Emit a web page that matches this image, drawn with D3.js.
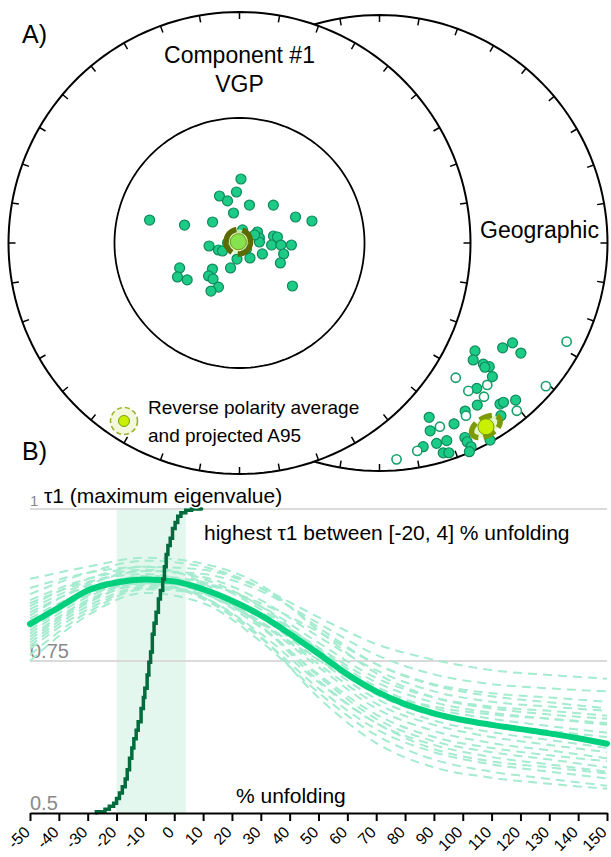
<!DOCTYPE html>
<html>
<head>
<meta charset="utf-8">
<script src="https://cdn.jsdelivr.net/npm/d3@7"></script>
<style>
    body { margin: 0; background: #fff; }
    svg { display: block; font-family: "Liberation Sans", Arial, Helvetica, sans-serif; }
</style>
</head>
<body>
<svg id="chart" width="611" height="857"></svg>
<script>
// ---- A) stereonets: VGPs as [lon, lat], directions as [dec, inc] (inc < 0 = upper hemisphere)
const vgps = [
    [1.3, 67.4], [336.9, 72.0], [356.6, 72.0], [344.1, 74.6], [14.7, 76.2], [41.8, 72.1],
    [348.7, 79.25], [284.3, 57.0], [288.1, 69.6], [307.9, 78.0], [65.1, 68.2], [73.1, 63.2],
    [13.0, 85.3], [58.6, 82.6], [76, 82.8], [78.4, 77.8], [81, 76.5], [264.4, 79.25],
    [251.6, 82.2], [244.8, 83.4], [270, 85.8], [87.1, 83.0], [93.6, 78.7], [92.8, 75.4],
    [92.2, 71.7], [104.0, 74.0], [116.0, 74.0], [115.6, 81.1], [145, 83.6], [188.9, 84.3],
    [199.8, 80.7], [247.4, 67.1], [241.3, 65.0], [234.8, 67.4], [226.1, 76.8], [223.2, 74.1],
    [216.4, 74.3], [205.5, 72.8], [210.7, 70.3], [129.1, 65.9], [107, 87.6], [62, 84.0], [130.6, 86.8]
];
const vgpMean = [317, 89.4];
const vgpA95 = 4.3;

const directions = [
    [138.5, 36.9], [141.3, 34.6], [139.4, 30.7], [138.4, 28.3], [139.7, 29.3], [139.8, 24.3],
    [130.4, 29.8], [126.9, 27.9], [127.9, 22.5], [146.2, 24.3], [148.9, 18.1], [143.2, 12.8],
    [142.1, 12.5], [139.1, 9.7], [153.0, 18.4], [144.9, 8.2], [164.1, 21.6], [164.9, 15.8],
    [157.6, 15.3], [164.1, 9.5], [161.2, 9.3], [167.9, 9.5], [163.1, 4.3], [161.7, 3.5],
    [156.3, 7.6], [156.2, 5.3], [155.8, 2.3], [156.7, 0.4], [150.7, 1.0],
    [117.8, -8.0], [150.5, -32.6], [149.0, -25.3], [142.8, -22.9], [145.8, -19.6], [130.7, -4.2],
    [140.7, -5.5], [153.4, -16.4], [161.8, -16.3], [169.7, -8.1], [175.5, -5.4]
];
const dirMean = [149.9, 7.6];
const dirA95 = 4.2;

// ---- B) fold test
const unfoldX = [-50, -40, -30, -20, -10, 0, 10, 20, 30, 40, 50, 60, 70, 80, 90, 100, 110, 120, 130, 140, 150];
const meanTau1 = [0.811, 0.838, 0.866, 0.879, 0.884, 0.881, 0.868, 0.849, 0.825, 0.795, 0.762,
    0.728, 0.700, 0.679, 0.664, 0.653, 0.645, 0.638, 0.631, 0.623, 0.614];

const bootX = [-50, -30, -10, 10, 30, 50, 70, 90, 110, 130, 150];
const bootTau1 = [
    [0.840, 0.885, 0.905, 0.900, 0.870, 0.822, 0.778, 0.752, 0.735, 0.727, 0.721],
    [0.825, 0.875, 0.898, 0.893, 0.865, 0.812, 0.760, 0.728, 0.712, 0.705, 0.700],
    [0.860, 0.895, 0.915, 0.905, 0.870, 0.805, 0.745, 0.710, 0.692, 0.682, 0.672],
    [0.790, 0.850, 0.880, 0.875, 0.845, 0.798, 0.745, 0.712, 0.697, 0.690, 0.683],
    [0.885, 0.905, 0.920, 0.910, 0.875, 0.800, 0.730, 0.690, 0.672, 0.662, 0.655],
    [0.800, 0.860, 0.885, 0.878, 0.840, 0.780, 0.722, 0.690, 0.675, 0.668, 0.660],
    [0.770, 0.835, 0.870, 0.865, 0.830, 0.772, 0.715, 0.682, 0.665, 0.655, 0.645],
    [0.815, 0.865, 0.890, 0.880, 0.835, 0.770, 0.708, 0.672, 0.655, 0.643, 0.632],
    [0.850, 0.885, 0.900, 0.885, 0.840, 0.768, 0.700, 0.662, 0.645, 0.635, 0.625],
    [0.780, 0.845, 0.878, 0.870, 0.825, 0.758, 0.695, 0.660, 0.642, 0.630, 0.618],
    [0.830, 0.872, 0.888, 0.872, 0.822, 0.752, 0.688, 0.652, 0.633, 0.620, 0.607],
    [0.795, 0.855, 0.880, 0.865, 0.815, 0.745, 0.680, 0.645, 0.625, 0.612, 0.600],
    [0.760, 0.830, 0.868, 0.860, 0.812, 0.740, 0.672, 0.635, 0.615, 0.603, 0.590],
    [0.820, 0.865, 0.882, 0.862, 0.805, 0.728, 0.662, 0.625, 0.607, 0.595, 0.585],
    [0.845, 0.880, 0.893, 0.870, 0.808, 0.725, 0.655, 0.618, 0.600, 0.588, 0.575],
    [0.785, 0.848, 0.875, 0.855, 0.795, 0.715, 0.648, 0.612, 0.592, 0.580, 0.568],
    [0.805, 0.858, 0.878, 0.852, 0.788, 0.705, 0.638, 0.600, 0.580, 0.568, 0.557],
    [0.750, 0.825, 0.862, 0.845, 0.782, 0.698, 0.628, 0.588, 0.568, 0.556, 0.545],
    [0.870, 0.895, 0.905, 0.878, 0.808, 0.718, 0.648, 0.605, 0.585, 0.575, 0.565],
    [0.810, 0.860, 0.878, 0.855, 0.790, 0.690, 0.615, 0.575, 0.558, 0.548, 0.540],
    [0.775, 0.840, 0.872, 0.860, 0.812, 0.752, 0.700, 0.675, 0.662, 0.655, 0.648],
    [0.835, 0.878, 0.898, 0.888, 0.850, 0.790, 0.735, 0.700, 0.683, 0.675, 0.668]
];

// cumulative distribution of the unfolding that maximises tau1 (scaled 0.5..1)
const cdfX = [-27, -24, -22.5, -21, -20, -19, -18, -17, -16.3, -15.5, -14.7, -14, -13.2, -12.5,
    -11.5, -10.7, -10.2, -9.4, -8.8, -8.2, -7.6, -7.0, -6.3, -5.5, -4.8, -4.0, -3.4, -2.8,
    -2.2, -1.4, -0.6, 0.3, 1.2, 2.3, 4, 6, 9.5];
const cdfY = [0.500, 0.502, 0.506, 0.511, 0.516, 0.524, 0.533, 0.543, 0.556, 0.571, 0.590, 0.607,
    0.622, 0.636, 0.650, 0.672, 0.690, 0.705, 0.727, 0.748, 0.765, 0.794, 0.812, 0.830, 0.852,
    0.866, 0.885, 0.905, 0.925, 0.940, 0.952, 0.968, 0.978, 0.988, 0.994, 0.998, 1.000];

const bestRange = [-20, 4];
const xTicks = [-50, -40, -30, -20, -10, 0, 10, 20, 30, 40, 50, 60, 70, 80, 90, 100, 110, 120, 130, 140, 150];
const yTicks = [0.5, 0.75, 1];

const COLORS = {
    point: '#1ccb86',
    pointStroke: '#0f8a5a',
    openStroke: '#17a06c',
    mean: '#00cf7d',
    boot: '#a4ebcf',
    cdf: '#006b3c',
    band: '#e4f7ef',
    grid: '#dadada',
    tickText: '#8a8a8a'
};

const svg = d3.select('#chart');

// ---------- A) ----------
const NET_L = { cx: 239.5, cy: 243, r: 231 };
const NET_R = { cx: 379.5, cy: 243, r: 228 };

const toGeo = (dec, inc) => [180 - dec, Math.abs(inc)];

function makeProjection(net) {
    return d3.geoAzimuthalEqualArea()
        .rotate([0, -90])
        .scale(net.r / Math.SQRT2)
        .translate([net.cx, net.cy])
        .clipAngle(90);
}

function drawNet(g, proj, net, withInner) {
    const path = d3.geoPath(proj);
    g.append('path')
        .datum({ type: 'Sphere' })
        .attr('d', path)
        .attr('fill', '#fff')
        .attr('stroke', '#000')
        .attr('stroke-width', 2);
    if (withInner) {
        g.append('path')
            .datum(d3.geoCircle().center([0, 90]).radius(45)())
            .attr('d', path)
            .attr('fill', 'none')
            .attr('stroke', '#000')
            .attr('stroke-width', 1.8);
    }
    g.selectAll('line.tick')
        .data(d3.range(0, 360, 10))
        .join('line')
        .attr('class', 'tick')
        .each(function (az) {
            const p = proj(toGeo(az, 0));
            const dx = p[0] - net.cx, dy = p[1] - net.cy;
            const len = Math.hypot(dx, dy);
            d3.select(this)
                .attr('x1', p[0]).attr('y1', p[1])
                .attr('x2', p[0] - dx / len * 7).attr('y2', p[1] - dy / len * 7);
        })
        .attr('stroke', '#000')
        .attr('stroke-width', 1.5);
}

function drawMean(g, proj, mean, a95, ringColor, dash, dotFill, dotR) {
    const path = d3.geoPath(proj);
    const p = proj(toGeo(mean[0], mean[1]));
    g.append('path')
        .datum(d3.geoCircle().center(toGeo(mean[0], mean[1])).radius(a95)())
        .attr('d', path)
        .attr('fill', 'rgba(220, 245, 190, 0.8)')
        .attr('stroke', ringColor)
        .attr('stroke-width', 5.5)
        .attr('stroke-dasharray', dash);
    g.append('circle')
        .attr('cx', p[0]).attr('cy', p[1]).attr('r', dotR)
        .attr('fill', dotFill)
        .attr('stroke', '#7a9a10')
        .attr('stroke-width', 1);
}

const projL = makeProjection(NET_L);
const projR = makeProjection(NET_R);

const gNetR = svg.append('g');
drawNet(gNetR, projR, NET_R, false);
const gNetL = svg.append('g');
drawNet(gNetL, projL, NET_L, true);

// VGPs
svg.append('g')
    .selectAll('circle')
    .data(vgps)
    .join('circle')
    .attr('cx', d => projL(toGeo(d[0], d[1]))[0])
    .attr('cy', d => projL(toGeo(d[0], d[1]))[1])
    .attr('r', 5)
    .attr('fill', COLORS.point)
    .attr('stroke', COLORS.pointStroke)
    .attr('stroke-width', 1.2);
drawMean(svg.append('g'), projL, vgpMean, vgpA95, '#5b6b00', '30,6', '#86e24e', 8);

// directions
svg.append('g')
    .selectAll('circle')
    .data(directions)
    .join('circle')
    .attr('cx', d => projR(toGeo(d[0], d[1]))[0])
    .attr('cy', d => projR(toGeo(d[0], d[1]))[1])
    .attr('r', d => d[1] >= 0 ? 5 : 4.6)
    .attr('fill', d => d[1] >= 0 ? COLORS.point : '#fff')
    .attr('stroke', d => d[1] >= 0 ? COLORS.pointStroke : COLORS.openStroke)
    .attr('stroke-width', d => d[1] >= 0 ? 1.2 : 1.6);
drawMean(svg.append('g'), projR, dirMean, dirA95, '#7c9a06', '13,5', '#c9f000', 8);

// labels
const labels = svg.append('g').attr('fill', '#000');
labels.append('text').attr('x', 22).attr('y', 43).style('font-size', '25px').text('A)');
labels.append('text').attr('x', 22).attr('y', 460).style('font-size', '25px').text('B)');
labels.append('text').attr('x', NET_L.cx).attr('y', 63).attr('text-anchor', 'middle')
    .style('font-size', '23px').text('Component #1');
labels.append('text').attr('x', NET_L.cx).attr('y', 92).attr('text-anchor', 'middle')
    .style('font-size', '23px').text('VGP');
labels.append('text').attr('x', 480).attr('y', 238).style('font-size', '23px').text('Geographic');

// legend
const legend = svg.append('g').attr('transform', 'translate(124,421)');
legend.append('circle').attr('r', 13.5)
    .attr('fill', '#f3f8dc').attr('stroke', '#9db22c')
    .attr('stroke-width', 1.6).attr('stroke-dasharray', '5,3');
legend.append('circle').attr('r', 5.5)
    .attr('fill', '#c9f000').attr('stroke', '#7a9a10').attr('stroke-width', 1);
legend.append('text').attr('x', 24).attr('y', -7).style('font-size', '19px').text('Reverse polarity average');
legend.append('text').attr('x', 24).attr('y', 21).style('font-size', '19px').text('and projected A95');

// ---------- B) ----------
const x = d3.scaleLinear().domain([-50, 150]).range([30, 607]);
const y = d3.scaleLinear().domain([0.5, 1]).range([813, 509]);

const gB = svg.append('g');

gB.append('rect')
    .attr('x', x(bestRange[0]))
    .attr('y', y(1))
    .attr('width', x(bestRange[1]) - x(bestRange[0]))
    .attr('height', y(0.5) - y(1))
    .attr('fill', COLORS.band);

gB.selectAll('line.grid')
    .data(yTicks.filter(d => d > 0.5))
    .join('line')
    .attr('class', 'grid')
    .attr('x1', x(-50)).attr('x2', x(150))
    .attr('y1', d => y(d)).attr('y2', d => y(d))
    .attr('stroke', COLORS.grid)
    .attr('stroke-width', 2);

gB.selectAll('text.ylab')
    .data(yTicks)
    .join('text')
    .attr('class', 'ylab')
    .attr('x', x(-50))
    .attr('y', d => y(d) - 3)
    .attr('fill', COLORS.tickText)
    .style('font-size', d => d === 1 ? '15px' : '20px')
    .text(d => d);

const bootLine = d3.line()
    .x((d, i) => x(bootX[i]))
    .y(d => y(d))
    .curve(d3.curveMonotoneX);

gB.selectAll('path.boot')
    .data(bootTau1)
    .join('path')
    .attr('class', 'boot')
    .attr('d', bootLine)
    .attr('fill', 'none')
    .attr('stroke', COLORS.boot)
    .attr('stroke-width', 2)
    .attr('stroke-dasharray', '9,6');

gB.append('path')
    .datum(meanTau1)
    .attr('d', d3.line().x((d, i) => x(unfoldX[i])).y(d => y(d)).curve(d3.curveMonotoneX))
    .attr('fill', 'none')
    .attr('stroke', COLORS.mean)
    .attr('stroke-width', 6)
    .attr('stroke-linecap', 'round');

gB.append('path')
    .datum(cdfY)
    .attr('d', d3.line().x((d, i) => x(cdfX[i])).y(d => y(d)).curve(d3.curveStepBefore))
    .attr('fill', 'none')
    .attr('stroke', COLORS.cdf)
    .attr('stroke-width', 3.5)
    .attr('stroke-linecap', 'round');

const axis = gB.append('g')
    .attr('transform', `translate(0,${y(0.5)})`)
    .call(d3.axisBottom(x).tickValues(xTicks).tickFormat(d => d).tickSize(8).tickSizeOuter(0));
axis.select('.domain').attr('stroke', '#000').attr('stroke-width', 2);
axis.selectAll('.tick line').attr('stroke', '#000').attr('stroke-width', 2);
axis.selectAll('.tick text')
    .attr('x', -14)
    .attr('y', 9)
    .attr('dy', '0.35em')
    .attr('transform', 'rotate(-45)')
    .attr('text-anchor', 'end')
    .attr('fill', '#000')
    .style('font-size', '16px')
    .style('font-family', '"Liberation Sans", Arial, sans-serif');

const titleB = gB.append('g').style('font-size', '21px').attr('fill', '#000');
titleB.append('text').attr('x', 44).attr('y', 503)
    .attr('stroke', '#fff').attr('stroke-width', 3).attr('paint-order', 'stroke')
    .text('τ1 (maximum eigenvalue)');
titleB.append('text').attr('x', 204).attr('y', 540)
    .text('highest τ1 between [' + bestRange[0] + ', ' + bestRange[1] + '] % unfolding');
titleB.append('text').attr('x', 236).attr('y', 803).text('% unfolding');
</script>
</body>
</html>
